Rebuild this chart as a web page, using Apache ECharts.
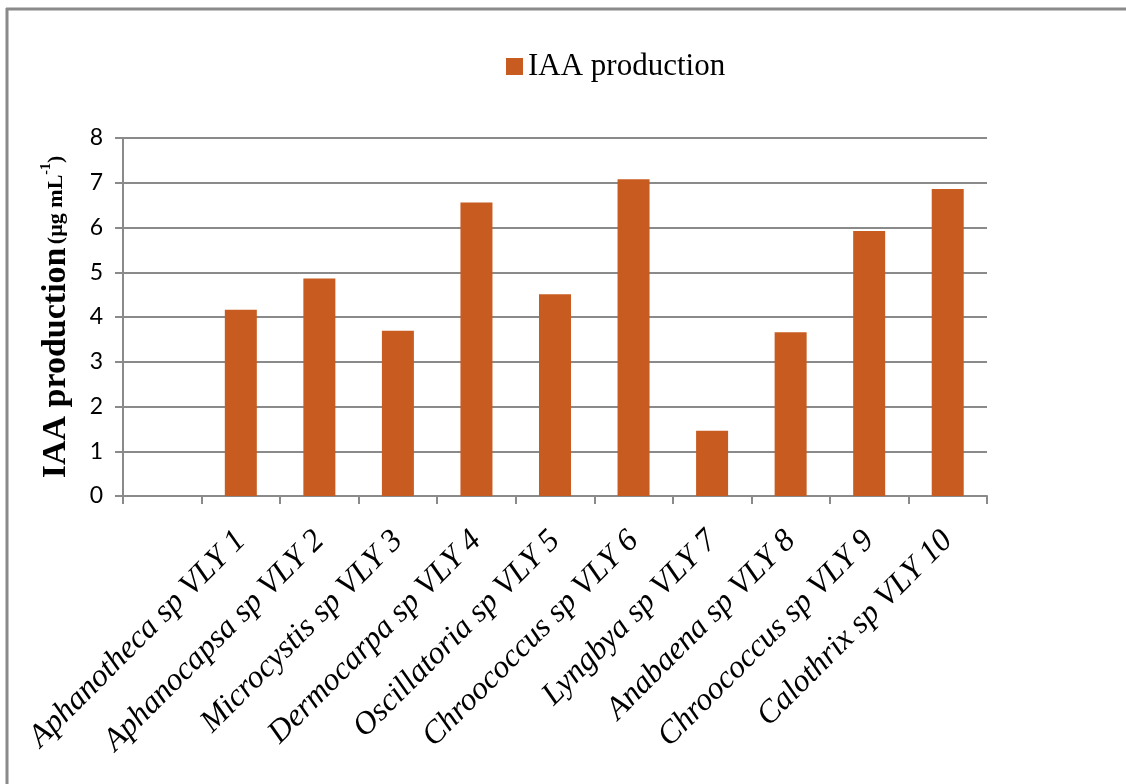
<!DOCTYPE html>
<html>
<head>
<meta charset="utf-8">
<title>IAA production</title>
<script src="https://cdn.jsdelivr.net/npm/echarts@6/dist/echarts.min.js"></script>
<style>
  html, body { margin: 0; padding: 0; background: #ffffff; }
  #chart { width: 1126px; height: 784px; }
</style>
</head>
<body>
<div id="chart"></div>
<script>
// Strains (first slot is left empty on the axis)
const strains = ['', 'Aphanotheca sp VLY 1', 'Aphanocapsa sp VLY 2', 'Microcystis sp VLY 3',
  'Dermocarpa sp VLY 4', 'Oscillatoria sp VLY 5', 'Chroococcus sp VLY 6', 'Lyngbya sp VLY 7',
  'Anabaena sp VLY 8', 'Chroococcus sp VLY 9', 'Calothrix sp VLY 10'];
// IAA production, µg mL-1
const iaaValues = [null, 4.16, 4.86, 3.69, 6.56, 4.51, 7.08, 1.46, 3.66, 5.92, 6.86];
const yTicks = [0, 1, 2, 3, 4, 5, 6, 7, 8];
const seriesName = 'IAA production';

const gray = '#8a8a8a';
const barColor = '#C85B20';
const serif = 'Liberation Serif';
const sans = 'Lato';

const chart = echarts.init(document.getElementById('chart'), null, { renderer: 'canvas' });
chart.setOption({
  backgroundColor: '#ffffff',
  animation: false,
  graphic: [
    { type: 'line', shape: { x1: 7, y1: 8, x2: 7, y2: 784 }, style: { stroke: gray, lineWidth: 3 } },
    { type: 'line', shape: { x1: 6, y1: 9, x2: 1126, y2: 9 }, style: { stroke: gray, lineWidth: 3 } }
  ],
  legend: {
    data: [seriesName],
    left: 501,
    top: 46,
    itemWidth: 17,
    itemHeight: 17,
    itemGap: 10,
    icon: 'rect',
    textStyle: { fontFamily: serif, fontSize: 31, color: '#000' }
  },
  grid: { left: 123, right: 139, top: 138, bottom: 288, containLabel: false },
  xAxis: {
    type: 'category',
    data: strains,
    boundaryGap: true,
    axisLine: { lineStyle: { color: gray, width: 2 } },
    axisTick: { show: true, length: 8, lineStyle: { color: gray, width: 2 } },
    axisLabel: {
      interval: 0,
      rotate: 45,
      margin: 40,
      fontFamily: serif,
      fontStyle: 'italic',
      fontSize: 32,
      color: '#000'
    },
    splitLine: { show: false }
  },
  yAxis: {
    type: 'value',
    min: yTicks[0],
    max: yTicks[yTicks.length - 1],
    interval: 1,
    name: '{big|IAA production} {small|(µg mL}{sup|-1}{small|)}',
    nameLocation: 'middle',
    nameGap: 50,
    nameRotate: 90,
    nameTextStyle: {
      rich: {
        big: { fontFamily: serif, fontWeight: 'bold', fontSize: 34, color: '#000' },
        small: { fontFamily: serif, fontWeight: 'bold', fontSize: 22, color: '#000' },
        sup: { fontFamily: serif, fontWeight: 'bold', fontSize: 14, color: '#000', verticalAlign: 'top', padding: [0, 0, 12, 0] }
      }
    },
    axisLine: { show: true, lineStyle: { color: gray, width: 2 } },
    axisTick: { show: true, length: 8, lineStyle: { color: gray, width: 2 } },
    axisLabel: { fontFamily: sans, fontSize: 23, color: '#000', margin: 20 },
    splitLine: { show: true, lineStyle: { color: gray, width: 2 } }
  },
  series: [{
    name: seriesName,
    type: 'bar',
    data: iaaValues,
    barWidth: 32,
    itemStyle: { color: barColor }
  }]
});
</script>
</body>
</html>
